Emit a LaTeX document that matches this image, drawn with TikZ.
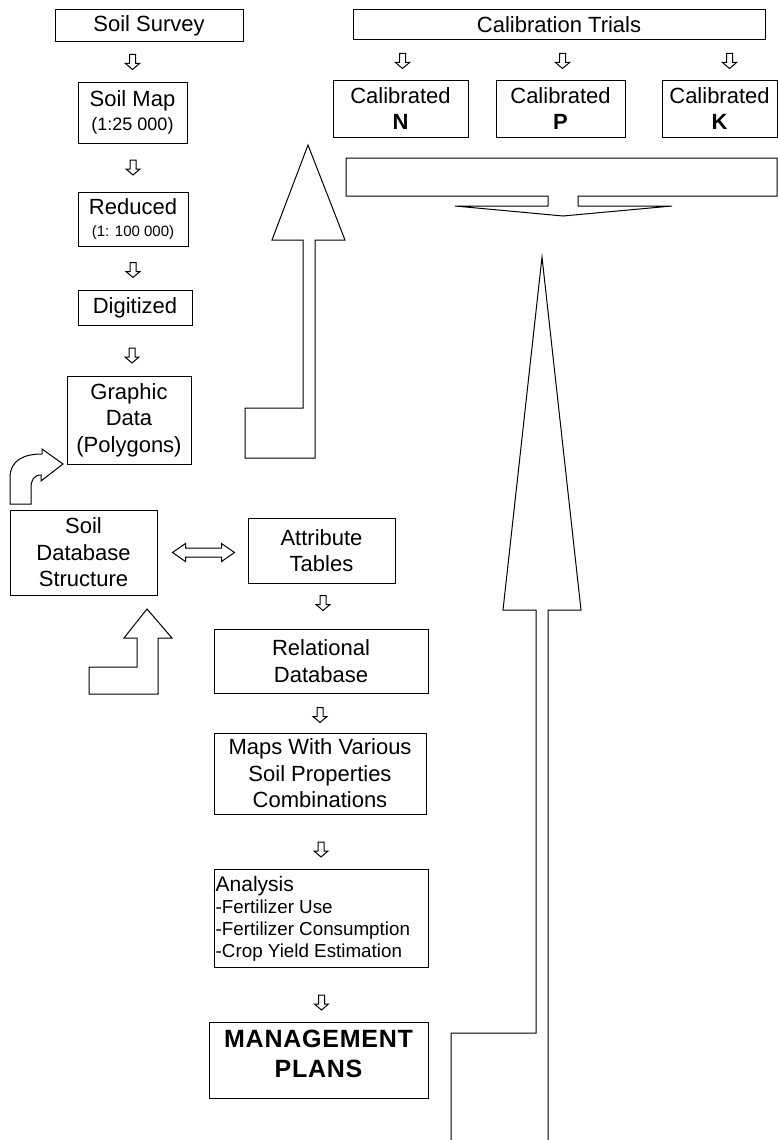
\documentclass[tikz,border=0pt]{standalone}
\usepackage{fontspec}
\setmainfont{Liberation Sans}
\usetikzlibrary{calc}
\tikzset{
  box/.style={draw, line width=1pt, inner sep=0pt, align=center, font=\fontsize{22}{26.5}\selectfont},
  rectat/.style n args={4}{minimum width={#3-#1}, minimum height={#4-#2}, at={({(#1+#3)/2},{(#2+#4)/2})}},
  outl/.style={draw, line width=1pt, fill=white, line join=miter},
  pics/downarr/.style={code={\draw[outl] (-3,-7.5) -- (3,-7.5) -- (3,1.5) -- (7,1.5) -- (0,7.5) -- (-7,1.5) -- (-3,1.5) -- cycle;}},
  pics/dblarr/.style={code={\draw[outl] (-31,0) -- (-18,-9) -- (-18,-4.5) -- (18,-4.5) -- (18,-9) -- (31,0) -- (18,9) -- (18,4.5) -- (-18,4.5) -- (-18,9) -- cycle;}},
}
\begin{document}
\begin{tikzpicture}[x=1pt,y=-1pt]
\useasboundingbox (0,0) rectangle (778,1140);
% left column
\node[box, rectat={55}{10}{243}{42}] (survey) {Soil Survey};
\node[box, rectat={78}{82}{187}{143}] (soilmap) {Soil Map\\[-3pt]{\fontsize{18}{20}\selectfont (1:25 000)}};
\node[box, rectat={78}{192}{188}{246}] (reduced) {Reduced\\[-4pt]{\fontsize{15}{16}\selectfont (1: 100 000)}};
\node[box, rectat={78}{290}{192}{325}] (digit) {Digitized};
\node[box, rectat={67}{376}{191}{464}] (graphic) {Graphic\\Data\\(Polygons)};
\node[box, rectat={10}{510}{157}{595}] (sdb) {Soil\\Database\\Structure};
\node[box, rectat={248}{518}{395}{583}] (attr) {Attribute\\Tables};
\node[box, rectat={214}{629}{428}{693}] (rel) {Relational\\Database};
\node[box, rectat={214}{733}{426}{814}] (maps) {Maps With Various\\Soil Properties\\Combinations};
\node[box, rectat={214}{869}{428}{967}] (analysis) {};
\node[inner sep=0pt, anchor=north west, align=left, font=\fontsize{18.8}{22}\selectfont] (analysistext) at ([shift={(2,8)}]analysis.north west) {{\fontsize{21}{22}\selectfont Analysis}\\-Fertilizer Use\\-Fertilizer Consumption\\-Crop Yield Estimation};
\node[box, rectat={209}{1022}{428}{1098}, font=\fontsize{25}{30}\selectfont\bfseries\addfontfeatures{LetterSpace=3}] (mgmt) {MANAGEMENT\\PLANS\\[-18pt]};
% calibration
\node[box, rectat={353}{10}{765}{40}] (calib) {Calibration Trials};
\node[box, rectat={333}{80}{468}{137}] (calN) {Calibrated\\\textbf{N}};
\node[box, rectat={496}{80}{625}{137}] (calP) {Calibrated\\\textbf{P}};
\node[box, rectat={662}{80}{777}{137}] (calK) {Calibrated\\\textbf{K}};
% small arrows
\pic at ($(soilmap.north)!0.5!(soilmap.north |- survey.south)$) {downarr};
\pic at ($(reduced.north)!0.5!(reduced.north |- soilmap.south)$) {downarr};
\pic at ($(digit.north)!0.5!(digit.north |- reduced.south)+(-2,2)$) {downarr};
\pic at ($(graphic.north)!0.5!(graphic.north |- digit.south)+(3,5)$) {downarr};
\pic at ($(rel.north)!0.5!(rel.north |- attr.south)+(2,-3)$) {downarr};
\pic at ($(maps.north)!0.5!(maps.north |- rel.south)+(0,2)$) {downarr};
\pic at ($(analysis.north)!0.5!(analysis.north |- maps.south)+(0,8)$) {downarr};
\pic at ($(mgmt.north)!0.5!(mgmt.north |- analysis.south)+(3,8)$) {downarr};
\pic at ($(calN.north)!0.5!(calN.north |- calib.south)+(2,1)$) {downarr};
\pic at ($(calP.north)!0.5!(calP.north |- calib.south)+(2,1)$) {downarr};
\pic at ($(calK.north)!0.5!(calK.north |- calib.south)+(10,1)$) {downarr};
\pic at ($(sdb.east)!0.5!(attr.west)+(1,1)$) {dblarr};
% funnel arrow below calibrated boxes
\draw[outl] (346,158) -- (777,158) -- (777,196) -- (578,196) -- (578,206) -- (672,206) -- (563,216) -- (455,206) -- (548,206) -- (548,196) -- (346,196) -- cycle;
% left big bent arrow
\draw[outl] (245,458) -- (315,458) -- (315,240) -- (345,240) -- (308,145) -- (272,240) -- (303,240) -- (303,408) -- (245,408) -- cycle;
% big right arrow (open at bottom)
\draw[line width=1pt] (451,1140) -- (451,1033) -- (536,1033) -- (536,610) -- (503,610) -- (542,257) -- (581,610) -- (548,610) -- (548,1140);
% bottom-left up arrow
\draw[outl] (89,694) -- (158,694) -- (158,638) -- (172,638) -- (147,609) -- (124,638) -- (137,638) -- (137,667) -- (89,667) -- cycle;
% curved arrow to graphic data
\draw[outl] (10,504) -- (10,478) .. controls (10,460) and (24,454) .. (42,454) -- (42,449) -- (63,464) -- (41,481) -- (41,475) .. controls (34,475) and (31,480) .. (31,488) -- (31,504) -- cycle;
\end{tikzpicture}
\end{document}
